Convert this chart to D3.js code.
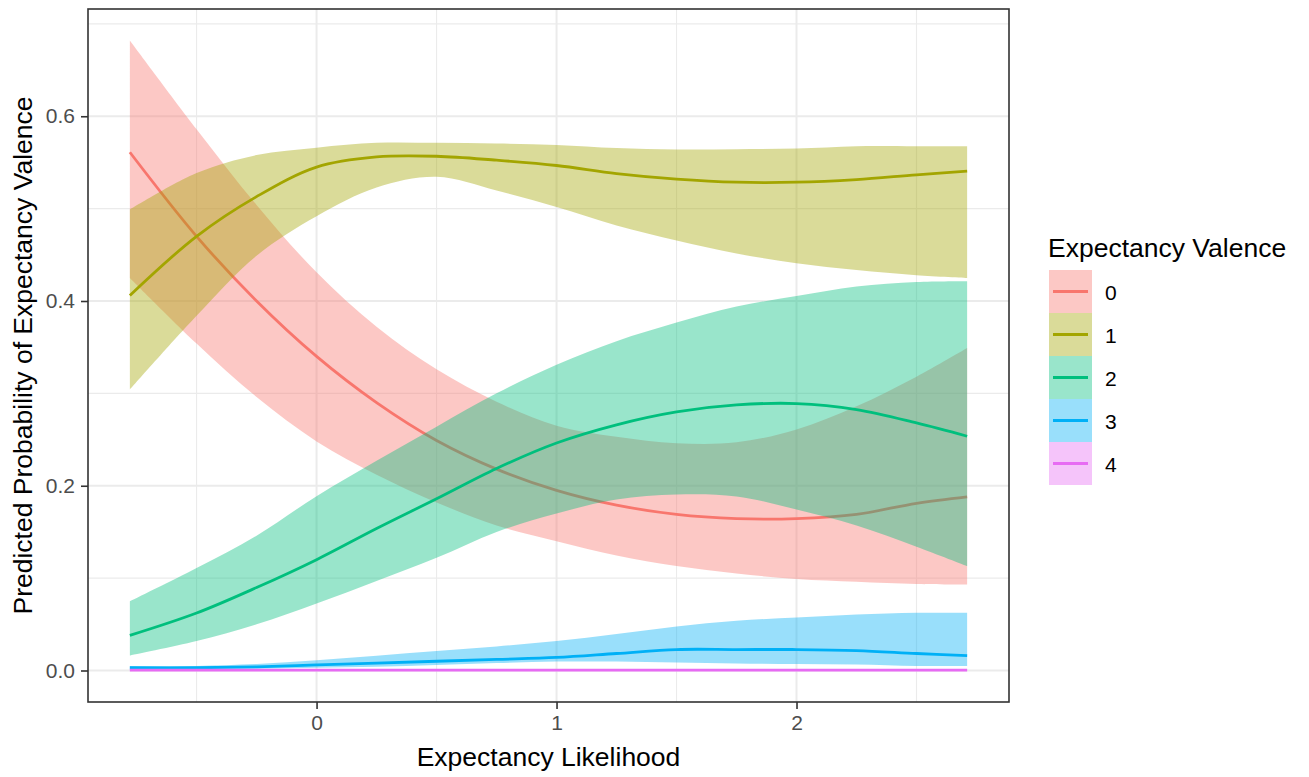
<!DOCTYPE html>
<html>
<head>
<meta charset="utf-8">
<script src="https://cdn.jsdelivr.net/npm/d3@7"></script>
<style>
  body { margin: 0; background: #fff; }
  svg { display: block; font-family: "Liberation Sans", Arial, sans-serif; }
</style>
</head>
<body>
<div id="chart"></div>
<script>
// x values where the curves were read
const xs = [-0.778, -0.5, -0.25, 0, 0.25, 0.5, 0.75, 1, 1.25, 1.5, 1.75, 2, 2.25, 2.5, 2.711];

const categories = ['0', '1', '2', '3', '4'];
const colors = ['#F8766D', '#A3A500', '#00BF7D', '#00B0F6', '#E76BF3'];

// predicted probability per category
const fit0 = [0.561, 0.470, 0.400, 0.340, 0.290, 0.249, 0.218, 0.195, 0.179, 0.169, 0.1645, 0.1645, 0.169, 0.181, 0.188];
const lo0  = [0.425, 0.354, 0.296, 0.248, 0.212, 0.182, 0.157, 0.140, 0.1245, 0.113, 0.105, 0.099, 0.096, 0.0936, 0.093];
const hi0  = [0.682, 0.586, 0.504, 0.431, 0.372, 0.326, 0.291, 0.265, 0.253, 0.246, 0.247, 0.261, 0.286, 0.318, 0.349];

const fit1 = [0.406, 0.470, 0.513, 0.545, 0.556, 0.5567, 0.5524, 0.5467, 0.538, 0.532, 0.5286, 0.5286, 0.5315, 0.5366, 0.5405];
const lo1  = [0.304, 0.384, 0.449, 0.4918, 0.5228, 0.5344, 0.5196, 0.5017, 0.4817, 0.4654, 0.4513, 0.441, 0.4335, 0.428, 0.425];
const hi1  = [0.499, 0.5385, 0.558, 0.566, 0.5712, 0.5712, 0.5705, 0.569, 0.5656, 0.564, 0.5643, 0.565, 0.5676, 0.5676, 0.5676];

const fit2 = [0.038, 0.0622, 0.0898, 0.120, 0.1537, 0.1859, 0.2187, 0.2463, 0.266, 0.280, 0.2875, 0.289, 0.2825, 0.268, 0.2536];
const lo2  = [0.0162, 0.0319, 0.050, 0.0725, 0.097, 0.122, 0.150, 0.170, 0.185, 0.1905, 0.1884, 0.1743, 0.157, 0.134, 0.113];
const hi2  = [0.075, 0.111, 0.146, 0.1887, 0.227, 0.264, 0.300, 0.331, 0.3565, 0.3767, 0.394, 0.4054, 0.4157, 0.4205, 0.4214];

const fit3 = [0.003, 0.003, 0.004, 0.006, 0.008, 0.010, 0.012, 0.0141, 0.0184, 0.0227, 0.0227, 0.0227, 0.0216, 0.0184, 0.016];
const lo3  = [0.001, 0.001, 0.002, 0.003, 0.004, 0.006, 0.008, 0.0097, 0.0097, 0.0087, 0.0076, 0.007, 0.0065, 0.0049, 0.0049];
const hi3  = [0.005, 0.005, 0.007, 0.011, 0.016, 0.021, 0.026, 0.0319, 0.0395, 0.0476, 0.0538, 0.0574, 0.0606, 0.0625, 0.0625];

const fit4 = [0.0005, 0.0005, 0.0005, 0.0005, 0.0005, 0.0005, 0.0005, 0.0005, 0.0005, 0.0005, 0.0005, 0.0005, 0.0005, 0.0005, 0.0005];
const lo4  = [0, 0, 0, 0, 0, 0, 0, 0, 0, 0, 0, 0, 0, 0, 0];
const hi4  = [0.0012, 0.0012, 0.0012, 0.0012, 0.0012, 0.0012, 0.0012, 0.0012, 0.0012, 0.0012, 0.0012, 0.0012, 0.0012, 0.0012, 0.0012];

const xTicks = [0, 1, 2];
const xMinor = [-0.5, 0.5, 1.5, 2.5];
const yTicks = [0, 0.2, 0.4, 0.6];
const yMinor = [0.1, 0.3, 0.5, 0.7];

const xTitle = 'Expectancy Likelihood';
const yTitle = 'Predicted Probability of Expectancy Valence';
const legendTitle = 'Expectancy Valence';

const fits = [fit0, fit1, fit2, fit3, fit4];
const lows = [lo0, lo1, lo2, lo3, lo4];
const highs = [hi0, hi1, hi2, hi3, hi4];

const series = categories.map((c, i) => ({
  key: c,
  color: colors[i],
  points: xs.map((x, j) => ({ x, fit: fits[i][j], lo: lows[i][j], hi: highs[i][j] }))
}));

const width = 1309, height = 777;
const panel = { left: 88, top: 9, right: 1009, bottom: 702 };

// ggplot-style 5% expansion
const xExt = d3.extent(xs);
const xPad = (xExt[1] - xExt[0]) * 0.05;
const yMax = d3.max(highs.flat());
const yPad = yMax * 0.05;

const x = d3.scaleLinear().domain([xExt[0] - xPad, xExt[1] + xPad]).range([panel.left, panel.right]);
const y = d3.scaleLinear().domain([-yPad, yMax + yPad]).range([panel.bottom, panel.top]);

const svg = d3.select('#chart').append('svg')
  .attr('width', width)
  .attr('height', height);

// -- grid
const grid = svg.append('g');
grid.selectAll('line.xminor').data(xMinor).join('line')
  .attr('x1', d => x(d)).attr('x2', d => x(d))
  .attr('y1', panel.top).attr('y2', panel.bottom)
  .attr('stroke', '#EBEBEB').attr('stroke-width', 1.1);
grid.selectAll('line.yminor').data(yMinor).join('line')
  .attr('y1', d => y(d)).attr('y2', d => y(d))
  .attr('x1', panel.left).attr('x2', panel.right)
  .attr('stroke', '#EBEBEB').attr('stroke-width', 1.1);
grid.selectAll('line.xmajor').data(xTicks).join('line')
  .attr('x1', d => x(d)).attr('x2', d => x(d))
  .attr('y1', panel.top).attr('y2', panel.bottom)
  .attr('stroke', '#EBEBEB').attr('stroke-width', 2);
grid.selectAll('line.ymajor').data(yTicks).join('line')
  .attr('y1', d => y(d)).attr('y2', d => y(d))
  .attr('x1', panel.left).attr('x2', panel.right)
  .attr('stroke', '#EBEBEB').attr('stroke-width', 2);

// -- ribbons and lines, drawn group by group
const area = d3.area()
  .x(d => x(d.x))
  .y0(d => y(d.lo))
  .y1(d => y(d.hi))
  .curve(d3.curveCatmullRom.alpha(0.5));
const line = d3.line()
  .x(d => x(d.x))
  .y(d => y(d.fit))
  .curve(d3.curveCatmullRom.alpha(0.5));

const groups = svg.append('g')
  .selectAll('g')
  .data(series)
  .join('g');
groups.append('path')
  .attr('d', d => area(d.points))
  .attr('fill', d => d.color)
  .attr('fill-opacity', 0.4);
groups.append('path')
  .attr('d', d => line(d.points))
  .attr('fill', 'none')
  .attr('stroke', d => d.color)
  .attr('stroke-width', 2.8);

// -- panel border
svg.append('rect')
  .attr('x', panel.left).attr('y', panel.top)
  .attr('width', panel.right - panel.left)
  .attr('height', panel.bottom - panel.top)
  .attr('fill', 'none')
  .attr('stroke', '#333333')
  .attr('stroke-width', 1.6);

// -- axes
const xAxis = svg.append('g')
  .attr('transform', `translate(0,${panel.bottom})`)
  .call(d3.axisBottom(x).tickValues(xTicks).tickFormat(d3.format('d')).tickSize(7).tickPadding(6));
const yAxis = svg.append('g')
  .attr('transform', `translate(${panel.left},0)`)
  .call(d3.axisLeft(y).tickValues(yTicks).tickFormat(d3.format('.1f')).tickSize(7).tickPadding(6));
[xAxis, yAxis].forEach(a => {
  a.select('.domain').remove();
  a.selectAll('.tick line').attr('stroke', '#333333').attr('stroke-width', 1.6);
  a.selectAll('.tick text')
    .attr('fill', '#4D4D4D')
    .style('font-size', '21px')
    .style('font-family', '"Liberation Sans", Arial, sans-serif');
});

svg.append('text')
  .attr('x', (panel.left + panel.right) / 2)
  .attr('y', 766)
  .attr('text-anchor', 'middle')
  .style('font-size', '26.5px')
  .text(xTitle);

svg.append('text')
  .attr('transform', `translate(32,${(panel.top + panel.bottom) / 2}) rotate(-90)`)
  .attr('text-anchor', 'middle')
  .style('font-size', '26.5px')
  .text(yTitle);

// -- legend
const legend = svg.append('g').attr('transform', 'translate(1049,270)');
legend.append('text')
  .attr('x', -1).attr('y', -13)
  .style('font-size', '26.5px')
  .text(legendTitle);
const keyW = 43, keyH = 43;
const keys = legend.selectAll('g.key')
  .data(series)
  .join('g')
  .attr('transform', (d, i) => `translate(0,${i * keyH})`);
keys.append('rect')
  .attr('width', keyW).attr('height', keyH)
  .attr('fill', '#fff');
keys.append('rect')
  .attr('width', keyW).attr('height', keyH)
  .attr('fill', d => d.color)
  .attr('fill-opacity', 0.4);
keys.append('line')
  .attr('x1', 4).attr('x2', keyW - 4)
  .attr('y1', keyH / 2).attr('y2', keyH / 2)
  .attr('stroke', d => d.color)
  .attr('stroke-width', 2.8);
keys.append('text')
  .attr('x', 56)
  .attr('y', keyH / 2 + 8)
  .style('font-size', '21px')
  .attr('fill', '#000')
  .text(d => d.key);
</script>
</body>
</html>
